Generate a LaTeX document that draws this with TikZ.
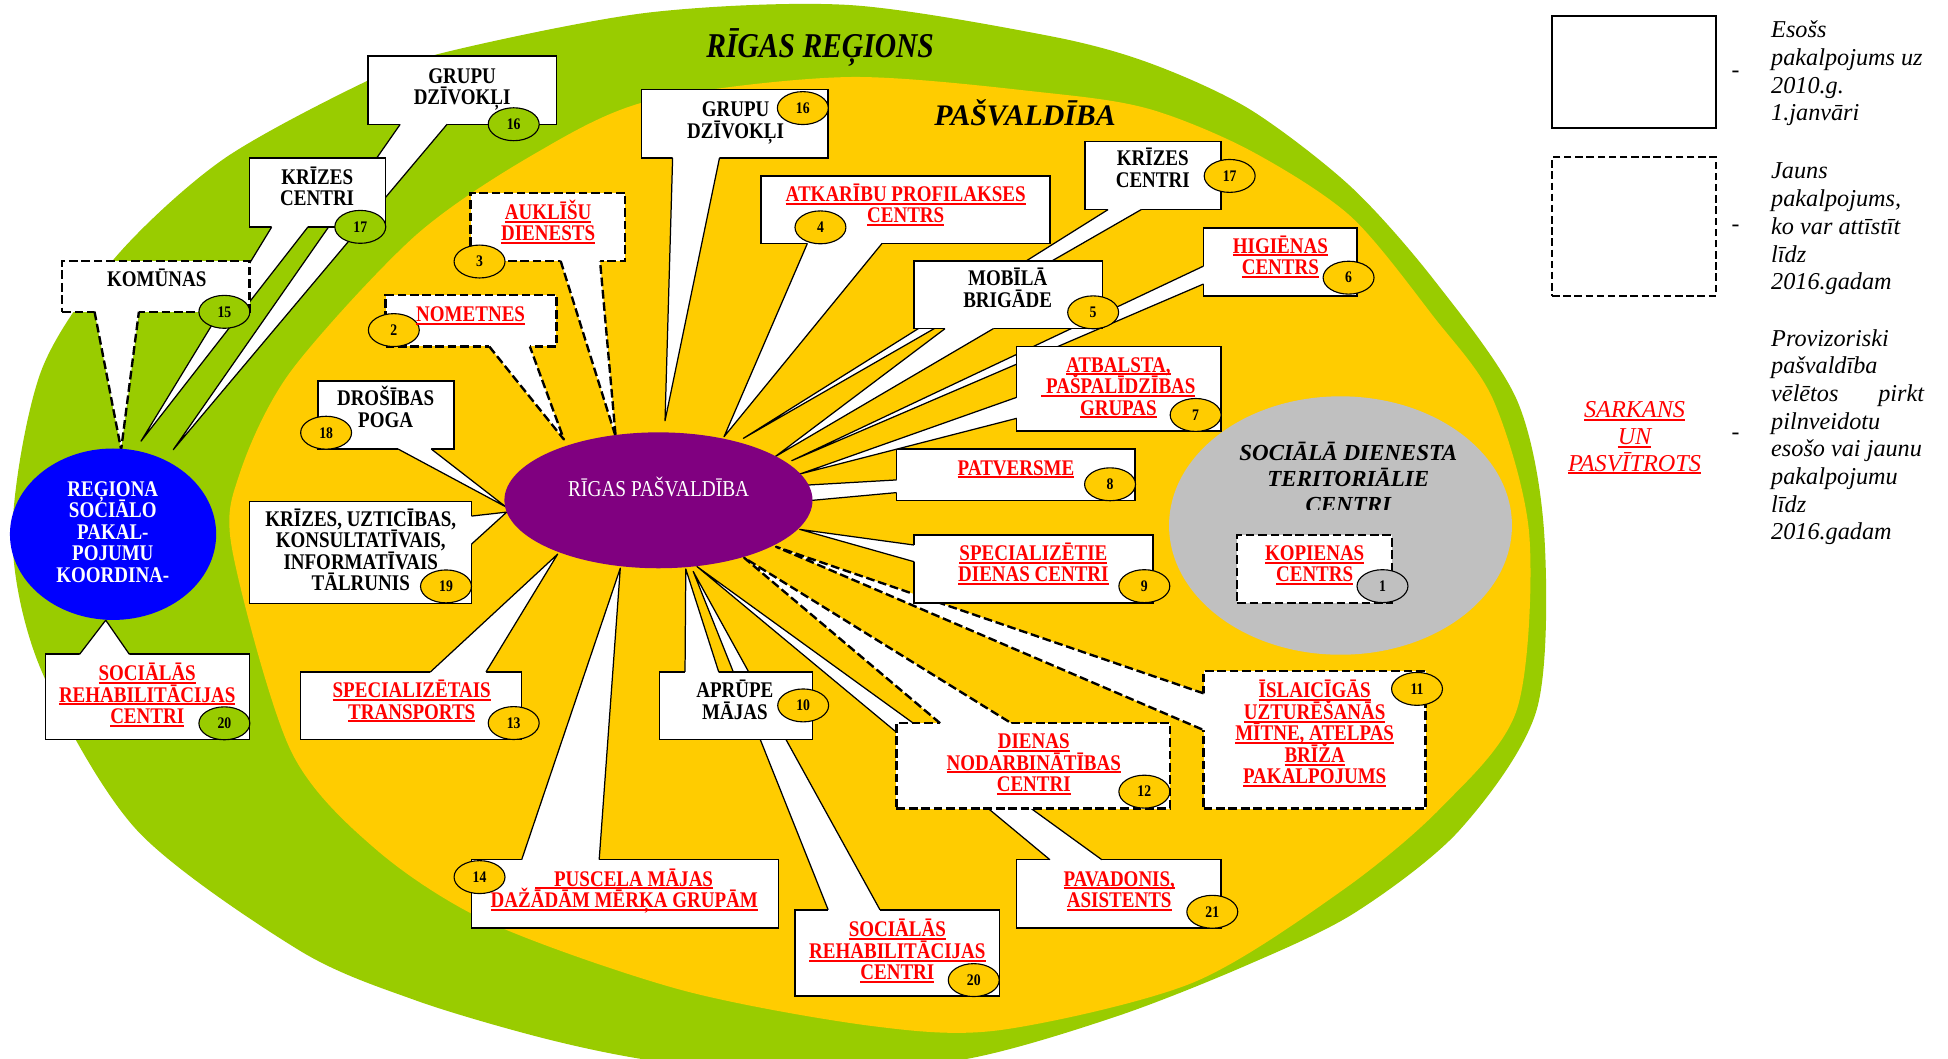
\documentclass[tikz,border=0pt]{standalone}
\usepackage{fontspec}
\setmainfont{Liberation Serif}
\newfontfamily\cf{Liberation Serif}[FakeStretch=0.85]
\usetikzlibrary{shapes.geometric,fit}
\definecolor{cgreen}{HTML}{99CC00}
\definecolor{cyellow}{HTML}{FFCC00}
\definecolor{cpurple}{HTML}{800080}
\definecolor{cblue}{HTML}{0000FF}
\definecolor{cgray}{HTML}{C0C0C0}
\definecolor{cred}{HTML}{FF0000}
\newcommand\fs{\rule{0pt}{16pt}}
\newcommand\fsl{\rule{0pt}{18pt}}
\newcommand\nols{\lineskiplimit-50pt\relax}
\newcommand\ru[1]{\setbox0\hbox{#1}\rlap{\rule[-2.6pt]{\wd0}{1.6pt}}\box0}
% callout pointer: style, ax, ay, bx, by, tx, ty, dx, dy (shift into box)
\newcommand\callw[9]{%
  \fill[white] ({#2+(#8)},{#3+(#9)}) -- (#2,#3) -- (#6,#7) -- (#4,#5) -- ({#4+(#8)},{#5+(#9)}) -- cycle;
  \draw[#1] (#2,#3) -- (#6,#7) -- (#4,#5);}
\tikzset{
 boxs/.style={draw=black, line width=1.2pt, fill=white, inner sep=0pt, rectangle},
 boxd/.style={draw=black, line width=1.9pt, dash pattern=on 7pt off 3pt, fill=white, inner sep=0pt, rectangle},
 wls/.style={draw=black, line width=1pt, line join=round},
 wld/.style={draw=black, line width=1.9pt, dash pattern=on 7pt off 3pt, line join=round},
 badge/.style={ellipse, draw=black, line width=0.9pt, minimum width=41pt, minimum height=26.5pt, inner sep=0pt, font={\cf\bfseries\fontsize{13}{13}\selectfont}},
 by/.style={badge, fill=cyellow},
 bg/.style={badge, fill=cgreen},
 bgr/.style={badge, fill=cgray},
 txt/.style={align=center, inner sep=0pt, anchor=north, font={\cf\bfseries\fontsize{18}{17.3}\selectfont\nols}},
 rtxt/.style={txt, text=cred},
 lgd/.style={align=left, inner sep=0pt, anchor=north west, font={\itshape\fontsize{19.5}{22.3}\selectfont\nols}},
}
\begin{document}
\begin{tikzpicture}[x=1pt,y=-1pt]
\useasboundingbox (0,0) rectangle (1568,852);
\clip (0,0) rectangle (1568,852);
\fill[white] (0,0) rectangle (1568,852);
% regions
\fill[cgreen] plot[smooth cycle] coordinates {(10,430) (33,299) (93,207) (180,128) (300,63) (367,40) (523,10) (683,4) (845,29) (926,51) (1006,88) (1087,150) (1154,225) (1221,322) (1243,430) (1237,571) (1175,668) (1090,735) (1001,778) (899,818) (780,852) (635,868) (514,852) (431,834) (334,805) (241,765) (110,668) (33,539)};
\fill[cyellow] plot[smooth cycle] coordinates {(187,443) (193,381) (234,299) (334,190) (430,124) (523,81) (683,62) (845,75) (926,88) (1006,121) (1087,174) (1154,255) (1202,322) (1231,431) (1221,571) (1160,650) (1080,717) (960,791) (806,829) (703,826) (549,797) (395,743) (303,684) (234,604)};
\node[ellipse, fill=cgray, minimum width=276pt, minimum height=208pt, inner sep=0pt] (gry) at (1079,423) {};
\begin{scope}
\clip (940,340) rectangle (1220,410);
\node[align=center, inner sep=0pt, anchor=north, font={\bfseries\itshape\fontsize{18.5}{20.9}\selectfont\nols}] (tgry) at (1085.3,353.3) {\rule{0pt}{17pt}SOCIĀLĀ DIENESTA\\TERITORIĀLIE\\CENTRI};
\end{scope}
\node[anchor=base, inner sep=0pt, font={\cf\bfseries\itshape\fontsize{28}{28}\selectfont}] (lreg) at (660.2,46.3) {RĪGAS REĢIONS};
\node[anchor=base, inner sep=0pt, font={\bfseries\itshape\fontsize{24}{24}\selectfont}] (lpas) at (825.1,101.2) {PAŠVALDĪBA};
% callouts (back to front)
\node[boxs, fit={(296.4,44.9)(447.9,100.1)}] (b16L) {};
\callw{wls}{322.1}{100.1}{359.8}{100.1}{139.5}{361.9}{0}{-2.5}
\node[boxs, fit={(200.9,127.3)(310.4,182.9)}] (b17L) {};
\callw{wls}{218.6}{182.9}{247.7}{182.9}{113.5}{355.1}{0}{-2.5}
\node[boxd, fit={(50.1,210.1)(200.9,250.9)}] (b15) {};
\callw{wld}{76.1}{250.9}{111.8}{250.9}{97.5}{361.9}{0}{-2.5}
\node[boxd, fit={(378.8,155.1)(503.3,210.1)}] (b3) {};
\callw{wld}{451.3}{210.1}{483}{210.1}{495.6}{351.6}{0}{-2.5}
\node[boxd, fit={(310.4,237.3)(447.9,278.9)}] (b2) {};
\callw{wld}{393.8}{278.9}{426.5}{278.9}{453.9}{353.7}{0}{-2.5}
\node[boxs, fit={(256,306.7)(365.5,361.4)}] (b18) {};
\callw{wls}{320.4}{361.4}{347.1}{361.4}{407.2}{408}{0}{-2.5}
\node[boxs, fit={(200.9,403.5)(379.5,485.7)}] (b19) {};
\callw{wls}{379.5}{415.4}{379.5}{438}{407.9}{412.2}{-2.5}{0}
\node[boxs, fit={(36.7,526.6)(200.9,595.3)}] (b20L) {};
\callw{wls}{64.1}{526.6}{104.1}{526.6}{85.1}{499.2}{0}{2.5}
\node[boxs, fit={(242,540.8)(419.9,595.3)}] (b13) {};
\callw{wls}{346.5}{540.8}{391.2}{540.8}{448.9}{446}{0}{2.5}
\node[boxs, fit={(379.5,692)(626.5,746.8)}] (b14) {};
\callw{wls}{419.9}{692}{482.3}{692}{499.3}{457.3}{0}{2.5}
\node[boxs, fit={(639.9,732.3)(804.4,801.6)}] (b20R) {};
\callw{wls}{666.6}{732.3}{708.3}{732.3}{558}{460}{0}{2.5}
\node[boxs, fit={(530.7,540.8)(653.9,595.3)}] (b10) {};
\callw{wls}{551.4}{540.8}{578.5}{540.8}{552}{458}{0}{2.5}
\node[boxs, fit={(818.4,692)(982.7,746.8)}] (b21) {};
\callw{wls}{845.1}{692}{886.9}{692}{561}{456}{0}{2.5}
\node[boxd, fit={(721.6,582.1)(941.9,650.8)}] (b12) {};
\callw{wld}{756.7}{582.1}{814}{582.1}{599}{449}{0}{2.5}
\node[boxd, fit={(968.8,540.2)(1147.5,650.8)}] (b11) {};
\callw{wld}{968.8}{558.1}{968.8}{587.6}{624.6}{440.1}{2.5}{0}
\node[boxs, fit={(735.7,430.6)(927.9,485.4)}] (b9) {};
\callw{wls}{735.7}{438.7}{735.7}{452.1}{643.7}{426.1}{2.5}{0}
\node[boxs, fit={(721.6,361.4)(913.6,402.7)}] (b8) {};
\fill[white] (724.1,386.3) -- (721.6,386.3) -- (640,391) -- (640,404) -- (721.6,396.5) -- (724.1,396.5) -- cycle;
\draw[wls] (721.6,386.3) -- (640,391);
\draw[wls] (721.6,396.5) -- (640,404);
\node[boxs, fit={(968.7,183.4)(1092.4,238.1)}] (b6) {};
\callw{wls}{968.7}{214.2}{968.7}{228.6}{637.3}{370.8}{2.5}{0}
\node[boxs, fit={(818.4,278.9)(983,346.9)}] (b7) {};
\callw{wls}{818.4}{319.8}{818.4}{336.7}{644}{381.5}{2.5}{0}
\node[boxs, fit={(873.5,113.7)(983,168.7)}] (b17R) {};
\callw{wls}{891.9}{168.7}{918.6}{168.7}{598.4}{352.8}{0}{-2.5}
\node[boxs, fit={(735.7,210.1)(887.5,264.5)}] (b5) {};
\callw{wls}{760.7}{264.5}{799.6}{264.5}{623.9}{367.6}{0}{-2.5}
\node[boxs, fit={(612.5,141.5)(845.1,195.9)}] (b4) {};
\callw{wls}{649.9}{195.9}{710}{195.9}{582.8}{351.5}{0}{-2.5}
\node[boxs, fit={(516.4,72.1)(666.6,127.3)}] (b16R) {};
\callw{wls}{541.4}{127.3}{579.1}{127.3}{535.3}{338.6}{0}{-2.5}
\node[boxd, fit={(995.9,430.6)(1120.4,485.4)}] (b1) {};
% centres
\node[ellipse, fill=cpurple, minimum width=248pt, minimum height=109.4pt, inner sep=0pt] (pur) at (530,402.7) {};
\node[ellipse, fill=cblue, minimum width=166pt, minimum height=138pt, inner sep=0pt] (blu) at (91,430) {};
\node[anchor=base, inner sep=0pt, text=white, font={\cf\fontsize{18.3}{18}\selectfont}] (tpur) at (530.2,399.3) {RĪGAS PAŠVALDĪBA};
\node[txt, text=white] (tblu) at (90.8,383.3) {\fs REĢIONA\\SOCIĀLO\\PAKAL-\\POJUMU\\KOORDINA-};
% badges
\node[bg] (n16L) at (413.5,100) {16};
\node[bg] (n17L) at (290,182.6) {17};
\node[bg] (n15) at (180.6,251) {15};
\node[by] (n3) at (386,210.5) {3};
\node[by] (n2) at (317,265.7) {2};
\node[by] (n18) at (262.5,348.3) {18};
\node[by] (n19) at (359,472) {19};
\node[bg] (n20L) at (180.6,582.2) {20};
\node[by] (n13) at (413.5,582) {13};
\node[by] (n14) at (386,706) {14};
\node[by] (n10) at (646.5,567.8) {10};
\node[by] (n20R) at (783.8,788.9) {20};
\node[by] (n21) at (975.8,733.9) {21};
\node[by] (n12) at (921.1,637.2) {12};
\node[by] (n11) at (1140.6,554.5) {11};
\node[bgr] (n1) at (1112.8,471.8) {1};
\node[by] (n9) at (921.1,471.8) {9};
\node[by] (n8) at (893.5,389.8) {8};
\node[by] (n7) at (962.4,334) {7};
\node[by] (n5) at (879.9,251.4) {5};
\node[by] (n6) at (1085.5,223.5) {6};
\node[by] (n17R) at (989.8,141.6) {17};
\node[by] (n4) at (660.4,183) {4};
\node[by] (n16R) at (646.2,87) {16};
% texts
\node[txt] (t16L) at (372,50.7) {\fs GRUPU\\DZĪVOKĻI};
\node[txt] (t17L) at (255.3,132.3) {\fs KRĪZES\\CENTRI};
\node[txt] (t15) at (126.2,214.5) {\fs KOMŪNAS};
\node[rtxt] (t3) at (441.2,160.3) {\fs\ru{AUKLĪŠU}\\\ru{DIENESTS}};
\node[rtxt] (t2) at (378.8,242.5) {\fs\ru{NOMETNES}};
\node[txt] (t18) at (310.4,310.5) {\fs DROŠĪBAS\\POGA};
\node[txt] (t19) at (290.4,407.5) {\fs KRĪZES, UZTICĪBAS,\\KONSULTATĪVAIS,\\INFORMATĪVAIS\\TĀLRUNIS};
\node[rtxt] (t20L) at (118.5,531.6) {\fs\ru{SOCIĀLĀS}\\\ru{REHABILITĀCIJAS}\\\ru{CENTRI}};
\node[rtxt] (t13) at (331.4,545.4) {\fs\ru{SPECIALIZĒTAIS}\\\ru{TRANSPORTS}};
\node[rtxt] (t14) at (502.5,697) {\fs\ru{\hspace{15pt}PUSCELA MĀJAS}\\\ru{DAŽĀDĀM MĒRĶA GRUPĀM}};
\node[txt] (t10) at (591.5,545.4) {\fs APRŪPE\\MĀJAS};
\node[rtxt] (t20R) at (722.3,737.9) {\fs\ru{SOCIĀLĀS}\\\ru{REHABILITĀCIJAS}\\\ru{CENTRI}};
\node[rtxt] (t21) at (900.9,697) {\fs\ru{PAVADONIS,}\\\ru{ASISTENTS}};
\node[rtxt] (t12) at (832.1,586.4) {\fs\ru{DIENAS}\\\ru{NODARBINĀTĪBAS}\\\ru{CENTRI}};
\node[rtxt] (t11) at (1058.2,545.5) {\fs\ru{ĪSLAICĪGĀS}\\\ru{UZTURĒŠANĀS}\\\ru{MĪTNE, ATELPAS}\\\ru{BRĪŽA}\\\ru{PAKALPOJUMS}};
\node[rtxt] (t1) at (1058.2,434.9) {\fs\ru{KOPIENAS}\\\ru{CENTRS}};
\node[rtxt] (t9) at (831.8,434.9) {\fs\ru{SPECIALIZĒTIE}\\\ru{DIENAS CENTRI}};
\node[rtxt] (t8) at (817.8,366.2) {\fs\ru{PATVERSME}};
\node[rtxt] (t7) at (900.2,283.3) {\fs\ru{ATBALSTA,}\\\ru{\hspace{4pt}PAŠPALĪDZĪBAS}\\\ru{GRUPAS}};
\node[txt] (t5) at (811.1,213.9) {\fs MOBĪLĀ\\BRIGĀDE};
\node[rtxt] (t6) at (1030.6,187.6) {\fs\ru{HIGIĒNAS}\\\ru{CENTRS}};
\node[txt] (t17R) at (927.9,117.3) {\fs KRĪZES\\CENTRI};
\node[rtxt] (t4) at (729,145.9) {\fs\ru{ATKARĪBU PROFILAKSES}\\\ru{CENTRS}};
\node[txt] (t16R) at (592.1,77.9) {\fs GRUPU\\DZĪVOKĻI};
% legend
\node[boxs, line width=1.8pt, fit={(1249.3,12.7)(1381.3,102.9)}] (lg1) {};
\node[boxd, line width=1.6pt, dash pattern=on 6pt off 3pt, fit={(1249.3,126.5)(1381.3,238.1)}] (lg2) {};
\node[inner sep=0pt, font={\fontsize{19}{19}\selectfont}] (d1) at (1397,59.5) {-};
\node[inner sep=0pt, font={\fontsize{19}{19}\selectfont}] (d2) at (1397,183.4) {-};
\node[inner sep=0pt, font={\fontsize{19}{19}\selectfont}] (d3) at (1397,350.8) {-};
\node[lgd] (lt1) at (1425.5,12.2) {\fsl Esošs\\pakalpojums uz\\2010.g.\\1.janvāri};
\node[lgd] (lt2) at (1425.5,125.8) {\fsl Jauns\\pakalpojums,\\ko var attīstīt\\līdz\\2016.gadam};
\node[lgd] (lt3) at (1425.5,260.3) {\fsl Provizoriski\\pašvaldība\\\makebox[123pt][l]{vēlētos\hfill pirkt}\\pilnveidotu\\esošo vai jaunu\\pakalpojumu\\līdz\\2016.gadam};
\node[align=center, inner sep=0pt, anchor=north, text=cred, font={\itshape\fontsize{19.5}{21.6}\selectfont\nols}] (lsk) at (1315.7,317.8) {\fsl\ru{SARKANS}\\\ru{UN}\\\ru{PASVĪTROTS}};
\end{tikzpicture}
\end{document}
